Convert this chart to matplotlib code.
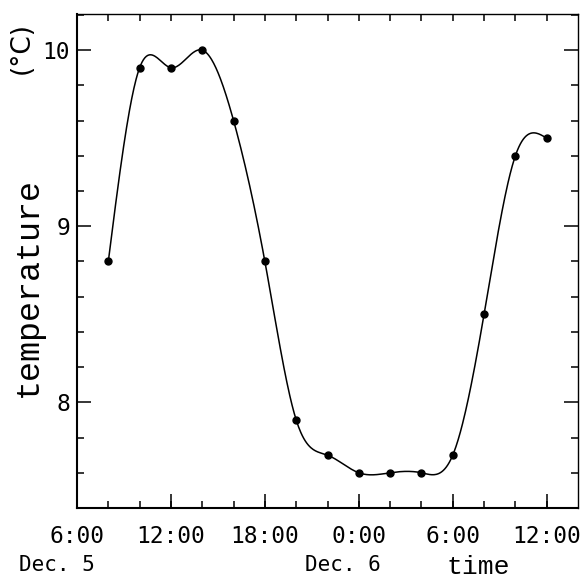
import matplotlib
matplotlib.use("Agg")
import matplotlib.pyplot as plt
import numpy as np

# hours since Dec 5 0:00, readings every 2 hours
hours = [8, 10, 12, 14, 16, 18, 20, 22, 24, 26, 28, 30, 32, 34, 36]
temps = [8.8, 9.9, 9.9, 10.0, 9.6, 8.8, 7.9, 7.7, 7.6, 7.6, 7.6, 7.7, 8.5, 9.4, 9.5]

tick_hours = [6, 12, 18, 24, 30, 36]
tick_labels = ["6:00", "12:00", "18:00", "0:00", "6:00", "12:00"]
ytick_vals = [8, 9, 10]
ytick_labels = ["8", "9", "10"]


def natural_spline(x, y, xs):
    x = np.asarray(x, float)
    y = np.asarray(y, float)
    n = len(x)
    h = np.diff(x)
    A = np.zeros((n, n))
    b = np.zeros(n)
    A[0, 0] = 1
    A[-1, -1] = 1
    for i in range(1, n - 1):
        A[i, i - 1] = h[i - 1]
        A[i, i] = 2 * (h[i - 1] + h[i])
        A[i, i + 1] = h[i]
        b[i] = 6 * ((y[i + 1] - y[i]) / h[i] - (y[i] - y[i - 1]) / h[i - 1])
    M = np.linalg.solve(A, b)
    idx = np.clip(np.searchsorted(x, xs) - 1, 0, n - 2)
    x0, x1 = x[idx], x[idx + 1]
    hh = x1 - x0
    return (M[idx] * (x1 - xs) ** 3 / (6 * hh) + M[idx + 1] * (xs - x0) ** 3 / (6 * hh)
            + (y[idx] / hh - M[idx] * hh / 6) * (x1 - xs)
            + (y[idx + 1] / hh - M[idx + 1] * hh / 6) * (xs - x0))


fig = plt.figure(figsize=(5.88, 5.83), dpi=100)
ax = fig.add_axes([77 / 588, 1 - 508 / 583, 501 / 588, 494 / 583])

xs = np.linspace(hours[0], hours[-1], 600)
ax.plot(xs, natural_spline(hours, temps, xs), color="black", lw=1.1)
ax.plot(hours, temps, "o", color="black", ms=5)

ax.set_xlim(6, 38)
ax.set_ylim(7.4, 10.205)

mono = "DejaVu Sans Mono"
ax.xaxis.remove_overlapping_locs = False
ax.set_xticks(tick_hours)
ax.set_xticklabels(tick_labels, fontsize=16.5, family=mono)
ax.set_xticks(np.arange(6, 38, 2), minor=True)
ax.set_yticks(ytick_vals)
ax.set_yticklabels(ytick_labels, fontsize=16.5, family=mono)
ax.set_yticks(np.arange(7.4, 10.21, 0.2), minor=True)

ax.tick_params(which="both", direction="in", top=True, right=True, width=1.1)
ax.tick_params(which="major", length=10)
ax.tick_params(which="minor", length=5)
ax.tick_params(axis="x", which="major", pad=12, top=False)
ax.tick_params(axis="y", which="major", pad=5)

for side in ["left", "bottom"]:
    ax.spines[side].set_linewidth(1.5)
for side in ["top", "right"]:
    ax.spines[side].set_linewidth(1.0)

fig.text(57 / 588, 1 - 565 / 583, "Dec. 5", fontsize=15, family=mono, ha="center", va="center")
fig.text(343 / 588, 1 - 565 / 583, "Dec. 6", fontsize=15, family=mono, ha="center", va="center")
fig.text(478 / 588, 1 - 567 / 583, "time", fontsize=19, family="Liberation Mono", ha="center", va="center")
fig.text(28 / 588, 1 - 287 / 583, "temperature", fontsize=24, family="Liberation Mono",
         rotation=90, ha="center", va="center")
fig.text(22 / 588, 1 - 48 / 583, "(°C)", fontsize=19, family="DejaVu Sans",
         rotation=90, ha="center", va="center")

fig.savefig("out.png", dpi=100)
